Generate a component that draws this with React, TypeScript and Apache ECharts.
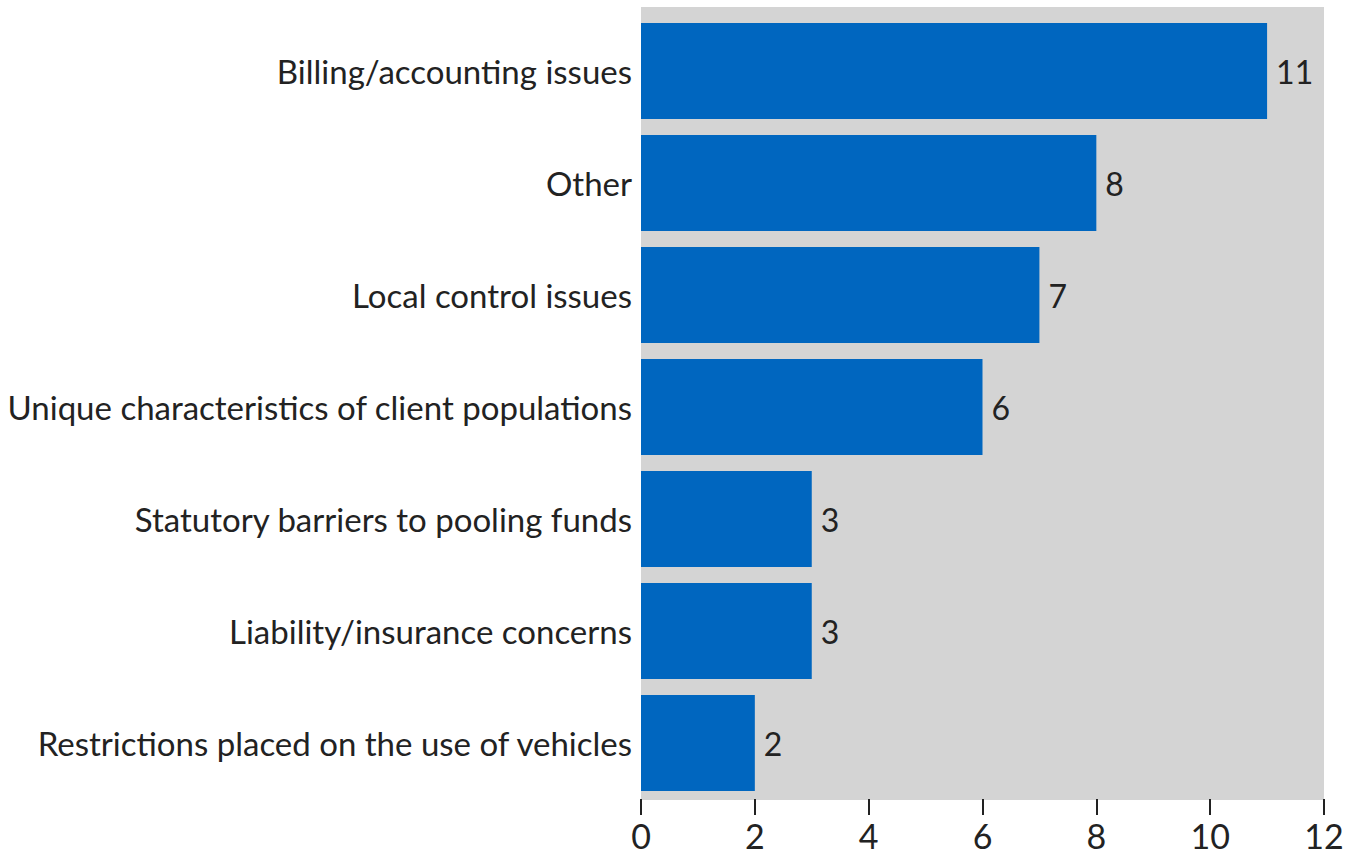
import React, { useEffect, useRef } from "react";
import * as echarts from "echarts";

const categories = [
  "Restrictions placed on the use of vehicles",
  "Liability/insurance concerns",
  "Statutory barriers to pooling funds",
  "Unique characteristics of client populations",
  "Local control issues",
  "Other",
  "Billing/accounting issues",
];
const values = [2, 3, 3, 6, 7, 8, 11];
const xMin = 0;
const xMax = 12;
const xInterval = 2;

const FONT = "Lato";

export default function App() {
  const ref = useRef<HTMLDivElement>(null);
  useEffect(() => {
    if (!ref.current) return;
    const chart = echarts.init(ref.current, undefined, { renderer: "svg" });
    chart.setOption({
      animation: false,
      graphic: [
        {
          type: "rect",
          z: -10,
          silent: true,
          shape: { x: 641, y: 7, width: 683, height: 793 },
          style: { fill: "#d4d4d4" },
        },
      ],
      grid: {
        left: 641,
        right: 27,
        top: 15,
        bottom: 56,
      },
      xAxis: {
        type: "value",
        min: xMin,
        max: xMax,
        interval: xInterval,
        axisLine: { show: false },
        axisTick: { show: true, length: 16, lineStyle: { color: "#222", width: 2 } },
        splitLine: { show: false },
        axisLabel: { color: "#222", fontSize: 34, lineHeight: 34, fontFamily: FONT, margin: 19 },
      },
      yAxis: {
        type: "category",
        data: categories,
        axisLine: { show: false },
        axisTick: { show: false },
        axisLabel: { color: "#222", fontSize: 33, fontFamily: FONT, margin: 9 },
      },
      series: [
        {
          type: "bar",
          data: values,
          barCategoryGap: "14.3%",
          itemStyle: { color: "#0066bf" },
          label: {
            show: true,
            position: "right",
            distance: 9,
            color: "#222",
            fontSize: 32,
            fontFamily: FONT,
          },
        },
      ],
    });
    return () => chart.dispose();
  }, []);
  return <div ref={ref} style={{ width: 1351, height: 855, position: "absolute", left: 0, top: 0 }} />;
}
